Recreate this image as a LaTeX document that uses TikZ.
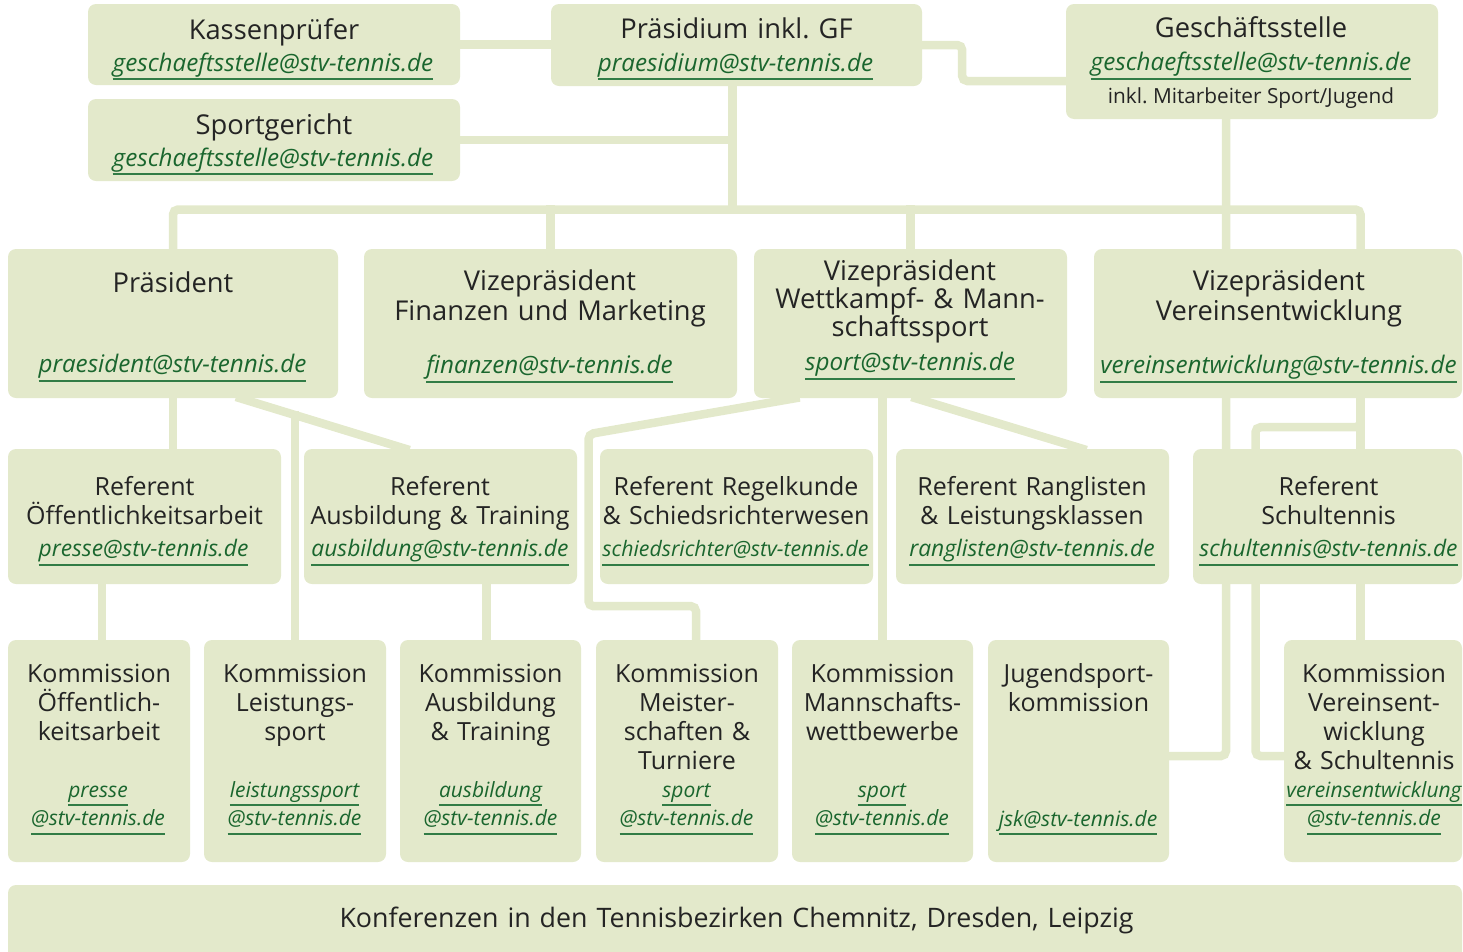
\documentclass[tikz,border=0pt]{standalone}
\usepackage{fontspec}
\setmainfont{Open Sans}
\usetikzlibrary{positioning,backgrounds}
\definecolor{boxgreen}{RGB}{227,233,203}
\definecolor{mailgreen}{RGB}{26,102,46}
\definecolor{ulgreen}{RGB}{50,124,70}
\definecolor{txtgray}{RGB}{36,36,36}
\newcommand{\mailul}[1]{\leavevmode{\itshape\color{mailgreen}\setbox0=\hbox{#1}\dimen0=\wd0 \rlap{\box0}\smash{\color{ulgreen}\rule[-9pt]{\dimen0}{1.6pt}}}}
\frenchspacing

\begin{document}
\begin{tikzpicture}[x=1pt,y=-1pt,
  box/.style={fill=boxgreen,rounded corners=8pt,inner sep=0pt},
  conn/.style={draw=boxgreen,line width=8.5pt,rounded corners=5pt,line cap=rect},
  ttl/.style={text=txtgray,font=\fontsize{25}{29.3}\selectfont,align=center,text width=420pt,inner sep=0pt,anchor=base},
  bigttl/.style={ttl,font=\fontsize{27.3}{29.5}\selectfont},
  ml/.style={font=\fontsize{21}{28.5}\selectfont,align=center,text width=420pt,inner sep=0pt,anchor=base},
  refml/.style={ml,font=\fontsize{22.8}{28.5}\selectfont},
  bigml/.style={ml,font=\fontsize{24.2}{28.5}\selectfont},
  sml/.style={text=txtgray,font=\fontsize{20.8}{22}\selectfont,inner sep=0pt,anchor=base}]
\useasboundingbox (0,0) rectangle (1463,951);
% oberste Ebene
\node[box,minimum width=372,minimum height=81] (kasse) at (274,44.5) {};
\node[box,minimum width=372,minimum height=82] (sportg) at (274,140) {};
\node[box,minimum width=371,minimum height=82] (praesidium) at (736.5,45) {};
\node[box,minimum width=372,minimum height=115] (gst) at (1252,61.5) {};
\node[bigttl] (kasse-t) at (274,39) {Kassenprüfer};
\node[bigml] (kasse-m) at (273,71) {\mailul{geschaeftsstelle@stv-tennis.de}};
\node[bigttl] (sportg-t) at (274,134) {Sportgericht};
\node[bigml] (sportg-m) at (273,166) {\mailul{geschaeftsstelle@stv-tennis.de}};
\node[bigttl] (praesidium-t) at (736.5,38) {Präsidium inkl. GF};
\node[bigml] (praesidium-m) at (735.5,71) {\mailul{praesidium@stv-tennis.de}};
\node[bigttl] (gst-t) at (1251,37) {Geschäftsstelle};
\node[bigml] (gst-m) at (1251,70.5) {\mailul{geschaeftsstelle@stv-tennis.de}};
\node[sml] (gst-s) at (1251,103) {inkl. Mitarbeiter Sport/Jugend};
% Vizepraesidenten
\node[box,minimum width=330,minimum height=149] (praes) at (173,323.5) {};
\node[box,minimum width=373,minimum height=149] (vpfin) at (550.5,323.5) {};
\node[box,minimum width=313,minimum height=149] (vpsport) at (910.5,323.5) {};
\node[box,minimum width=368,minimum height=149] (vpverein) at (1278,323.5) {};
\node[bigttl] (praes-t) at (173,292) {Präsident};
\node[bigml] (praes-m) at (172.5,372.5) {\mailul{praesident@stv-tennis.de}};
\node[bigttl] (vpfin-t) at (550,290.5) {Vizepräsident\\Finanzen und Marketing};
\node[bigml] (vpfin-m) at (549.5,373.5) {\mailul{finanzen@stv-tennis.de}};
\node[bigttl,font=\fontsize{27.3}{28.4}\selectfont] (vpsport-t) at (910,280) {Vizepräsident\\Wettkampf- \& Mann-\\schaftssport};
\node[bigml] (vpsport-m) at (910,370.5) {\mailul{sport@stv-tennis.de}};
\node[bigttl] (vpverein-t) at (1279,290.5) {Vizepräsident\\Vereinsentwicklung};
\node[bigml] (vpverein-m) at (1278.5,373.5) {\mailul{vereinsentwicklung@stv-tennis.de}};
% Referenten
\node[box,minimum width=273,minimum height=135] (refoeff) at (144.5,516.5) {};
\node[box,minimum width=273,minimum height=135] (refausb) at (440.5,516.5) {};
\node[box,minimum width=273,minimum height=135] (refregel) at (736.5,516.5) {};
\node[box,minimum width=273,minimum height=135] (refrang) at (1032.5,516.5) {};
\node[box,minimum width=269,minimum height=135] (refschul) at (1327.5,516.5) {};
\node[ttl] (refoeff-t) at (144.5,495) {Referent\\Öffentlichkeitsarbeit};
\node[refml] (refoeff-m) at (143.5,556.5) {\mailul{presse@stv-tennis.de}};
\node[ttl] (refausb-t) at (440,495) {Referent\\Ausbildung \& Training};
\node[refml] (refausb-m) at (440,556.5) {\mailul{ausbildung@stv-tennis.de}};
\node[ttl] (refregel-t) at (736,495) {Referent Regelkunde\\\& Schiedsrichterwesen};
\node[refml,font=\fontsize{21.3}{28.5}\selectfont] (refregel-m) at (735.5,556.5) {\mailul{schiedsrichter@stv-tennis.de}};
\node[ttl] (refrang-t) at (1032,495) {Referent Ranglisten\\\& Leistungsklassen};
\node[refml] (refrang-m) at (1032,556.5) {\mailul{ranglisten@stv-tennis.de}};
\node[ttl] (refschul-t) at (1328.5,495) {Referent\\Schultennis};
\node[refml] (refschul-m) at (1328.5,556.5) {\mailul{schultennis@stv-tennis.de}};
% Kommissionen
\node[box,minimum width=182,minimum height=222] (koeff) at (99,751) {};
\node[box,minimum width=182,minimum height=222] (kleist) at (295,751) {};
\node[box,minimum width=181,minimum height=222] (kausb) at (490.5,751) {};
\node[box,minimum width=182,minimum height=222] (kmeist) at (687,751) {};
\node[box,minimum width=181,minimum height=222] (kmann) at (882.5,751) {};
\node[box,minimum width=181,minimum height=222] (kjug) at (1078.5,751) {};
\node[box,minimum width=178,minimum height=222] (kverein) at (1373,751) {};
\node[ttl] (koeff-t) at (99,682) {Kommission\\Öffentlich-\\keitsarbeit};
\node[ml] (koeff-m) at (98,797) {\mailul{presse}\\\mailul{@stv-tennis.de}};
\node[ttl] (kleist-t) at (295,682) {Kommission\\Leistungs-\\sport};
\node[ml] (kleist-m) at (294.5,797) {\mailul{leistungssport}\\\mailul{@stv-tennis.de}};
\node[ttl] (kausb-t) at (490.5,682) {Kommission\\Ausbildung\\\& Training};
\node[ml] (kausb-m) at (490.5,797) {\mailul{ausbildung}\\\mailul{@stv-tennis.de}};
\node[ttl] (kmeist-t) at (687,682) {Kommission\\Meister-\\schaften \&\\Turniere};
\node[ml] (kmeist-m) at (686.5,797) {\mailul{sport}\\\mailul{@stv-tennis.de}};
\node[ttl] (kmann-t) at (882.5,682) {Kommission\\Mannschafts-\\wettbewerbe};
\node[ml] (kmann-m) at (882,797) {\mailul{sport}\\\mailul{@stv-tennis.de}};
\node[ttl] (kjug-t) at (1078.5,682) {Jugendsport-\\kommission};
\node[ml] (kjug-m) at (1078,826) {\mailul{jsk@stv-tennis.de}};
\node[ttl] (kverein-t) at (1374,682) {Kommission\\Vereinsent-\\wicklung\\\& Schultennis};
\node[ml] (kverein-m) at (1374,797) {\mailul{vereinsentwicklung}\\\mailul{@stv-tennis.de}};
% Konferenzen
\node[box,minimum width=1454,minimum height=76] (konf) at (735,923) {};
\node[bigttl,font=\fontsize{26.8}{29}\selectfont,text width=1000pt] (konf-t) at (736.5,927) {Konferenzen in den Tennisbezirken Chemnitz, Dresden, Leipzig};
\coordinate (pdrop) at ([xshift=-4]praesidium.south);
\coordinate (vvdrop) at ([xshift=82.5]vpverein.south);
\coordinate (bar) at (0,209.5);
\begin{scope}[on background layer]
\draw[conn] (kasse.east) -- (kasse.east -| praesidium.west);
\draw[conn] (praesidium.east) -- ++(40,0) |- ([yshift=-19.5]gst.west);
\draw[conn] (sportg.east) -- (sportg.east -| pdrop);
\draw[conn] (pdrop) -- (pdrop |- bar);
\draw[conn] (praes.north) -- (praes.north |- bar) -- (vvdrop |- bar) -- (vvdrop |- vpverein.north);
\draw[conn] (vpfin.north) -- (vpfin.north |- bar);
\draw[conn] (vpsport.north) -- (vpsport.north |- bar);
\draw[conn] ([xshift=-26]gst.south) |- ([yshift=-5]kjug.east);
\draw[conn] (praes.south) -- (praes.south |- refoeff.north);
\draw[conn] ([xshift=67]praes.south) -- coordinate[pos=0.33] (dleist) ([xshift=-35]refausb.north);
\draw[conn] (dleist -| kleist.north) -- (kleist.north);
\draw[conn] ([xshift=3]koeff.north |- refoeff.south) -- ([xshift=3]koeff.north);
\draw[conn] ([xshift=-4]kausb.north |- refausb.south) -- ([xshift=-4]kausb.north);
\draw[conn] ([xshift=-115]vpsport.south) -- ++(-207,36) -- ++(0,172) -| ([xshift=9]kmeist.north);
\draw[conn] (vpsport.south -| kmann.north) -- (kmann.north);
\draw[conn] ([xshift=5]vpsport.south) -- ([xshift=50]refrang.north);
\draw[conn] (vvdrop) -- (vvdrop |- refschul.north);
\draw[conn] (vvdrop) |- ++(-105,29) |- ([yshift=-5]kverein.west);
\draw[conn] (vvdrop |- refschul.south) -- (vvdrop |- kverein.north);
\end{scope}
\end{tikzpicture}
\end{document}
